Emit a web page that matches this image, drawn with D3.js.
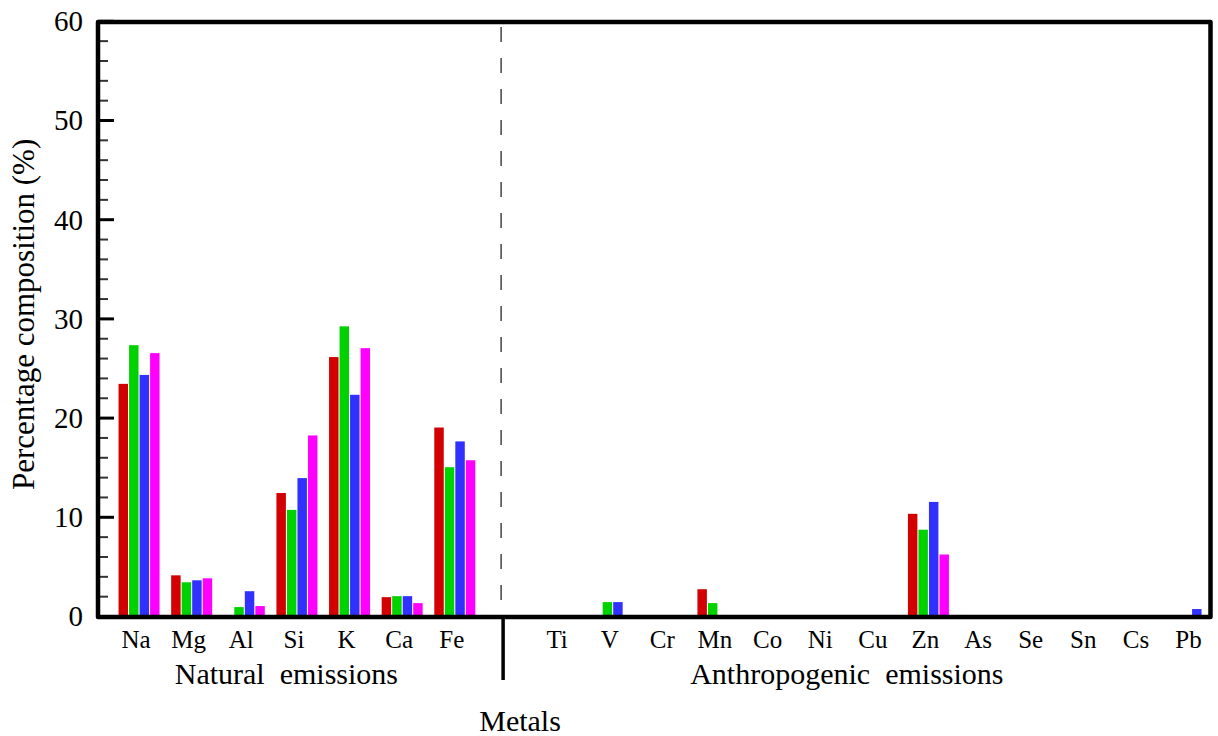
<!DOCTYPE html>
<html>
    <head>
        <script src="https://d3js.org/d3.v7.min.js"></script>
        <style>
            body { margin: 0; background: #fff; }
        </style>
    </head>
    <body>
        <script>
var w = 1218
var h = 736
var serif = '"Liberation Serif", "Times New Roman", "DejaVu Serif", serif'

var categories = ['Na','Mg','Al','Si','K','Ca','Fe','Ti','V','Cr','Mn','Co','Ni','Cu','Zn','As','Se','Sn','Cs','Pb']
var naturalCount = 7

// four sampling series (red, green, blue, magenta)
var series1 = [23.4, 4.1, 0.0, 12.4, 26.1, 1.9, 19.0, 0, 0.0, 0, 2.7, 0, 0, 0, 10.3, 0, 0, 0, 0, 0.0]
var series2 = [27.3, 3.4, 0.9, 10.7, 29.2, 2.0, 15.0, 0, 1.4, 0, 1.3, 0, 0, 0, 8.7, 0, 0, 0, 0, 0.0]
var series3 = [24.3, 3.6, 2.5, 13.9, 22.3, 2.0, 17.6, 0, 1.4, 0, 0.0, 0, 0, 0, 11.5, 0, 0, 0, 0, 0.7]
var series4 = [26.5, 3.8, 1.0, 18.2, 27.0, 1.3, 15.7, 0, 0.0, 0, 0.0, 0, 0, 0, 6.2, 0, 0, 0, 0, 0.0]
var allSeries = [series1, series2, series3, series4]
var colors = ['#d20000', '#00d200', '#3030ff', '#ff00ff']

var yTicks = [0, 10, 20, 30, 40, 50, 60]
var yMinor = [2,4,6,8,12,14,16,18,22,24,26,28,32,34,36,38,42,44,46,48,52,54,56,58]

var plotLeft = 98, plotRight = 1210.5, plotTop = 22, plotBottom = 616

// slot position: an empty slot separates natural and anthropogenic groups
function slot(i){ return i < naturalCount ? i : i + 1 }

var x = d3.scaleLinear().domain([-0.78, 20.36]).range([plotLeft, plotRight])
var inner = d3.scaleBand().domain([0,1,2,3]).range([-20.5, 20.5]).paddingInner(0.1)
var y = d3.scaleLinear().domain([0, 60]).range([plotBottom, 20.8])

var svg = d3.select('body').append('svg')
  .attr('width', w)
  .attr('height', h)

var rows = []
categories.forEach(function(c, i){
  allSeries.forEach(function(s, k){
    rows.push({cat: c, i: i, k: k, v: s[i]})
  })
})

svg.append('g').selectAll('rect')
  .data(rows.filter(function(d){ return d.v > 0 }))
  .enter()
  .append('rect')
  .attr('x', function(d){ return x(slot(d.i)) + inner(d.k) })
  .attr('width', inner.bandwidth())
  .attr('y', function(d){ return y(d.v) })
  .attr('height', function(d){ return y(0) - y(d.v) })
  .attr('fill', function(d){ return colors[d.k] })

// dashed separator inside plot
var sepX = x(6.88)
svg.append('line')
  .attr('x1', sepX).attr('x2', sepX)
  .attr('y1', plotTop + 5).attr('y2', plotBottom - 14)
  .attr('stroke', '#444')
  .attr('stroke-width', 1.5)
  .attr('stroke-dasharray', '15,16')

// y axis: major + minor ticks pointing inward
var yAxis = d3.axisLeft(y).tickValues(yTicks).tickSize(-16).tickPadding(15).tickFormat(d3.format('d'))
var gy = svg.append('g').attr('transform', 'translate(' + plotLeft + ',0)').call(yAxis)
gy.select('.domain').remove()
gy.attr('font-family', serif).attr('font-size', 29)
gy.selectAll('line').attr('stroke', '#000').attr('stroke-width', 3)
gy.selectAll('text').attr('dy', '0.34em').attr('fill', '#000')

var gm = svg.append('g').attr('transform', 'translate(' + plotLeft + ',0)')
  .call(d3.axisLeft(y).tickValues(yMinor).tickSize(-10).tickFormat(''))
gm.select('.domain').remove()
gm.selectAll('line').attr('stroke', '#333').attr('stroke-width', 2)

// frame
svg.append('rect')
  .attr('x', plotLeft).attr('y', plotTop)
  .attr('width', plotRight - plotLeft).attr('height', plotBottom + 1 - plotTop)
  .attr('fill', 'none')
  .attr('stroke', '#000')
  .attr('stroke-width', 4.5)
  .attr('stroke-linejoin', 'round')

// solid separator below the axis
svg.append('line')
  .attr('x1', sepX + 2).attr('x2', sepX + 2)
  .attr('y1', plotBottom).attr('y2', 680)
  .attr('stroke', '#000')
  .attr('stroke-width', 3.5)

// category labels
svg.append('g').selectAll('text')
  .data(categories)
  .enter()
  .append('text')
  .text(function(d){ return d })
  .attr('x', function(d, i){ return x(slot(i)) - 3 })
  .attr('y', 648)
  .attr('text-anchor', 'middle')
  .attr('font-family', serif)
  .attr('font-size', 25)

svg.append('text')
  .text('Natural  emissions')
  .attr('x', x(2.8)).attr('y', 684)
  .attr('text-anchor', 'middle')
  .attr('font-family', serif)
  .attr('font-size', 30)
  .style('white-space', 'pre')

svg.append('text')
  .text('Anthropogenic  emissions')
  .attr('x', x(13.45)).attr('y', 684)
  .attr('text-anchor', 'middle')
  .attr('font-family', serif)
  .attr('font-size', 30)
  .style('white-space', 'pre')

svg.append('text')
  .text('Metals')
  .attr('x', x(7.24)).attr('y', 731)
  .attr('text-anchor', 'middle')
  .attr('font-family', serif)
  .attr('font-size', 30)

svg.append('text')
  .text('Percentage composition (%)')
  .attr('transform', 'translate(34,' + (y(30) - 4) + ') rotate(-90)')
  .attr('text-anchor', 'middle')
  .attr('font-family', serif)
  .attr('font-size', 31)
        </script>
    </body>
</html>
